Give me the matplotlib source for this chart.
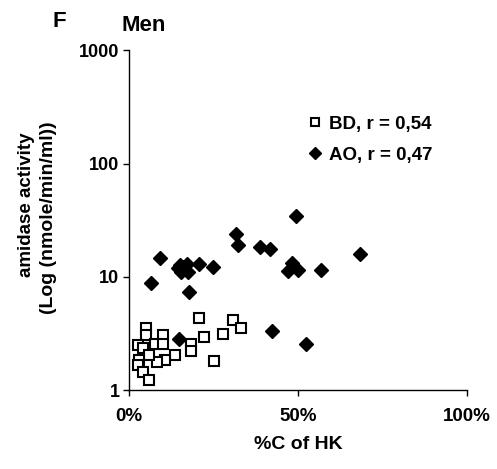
import matplotlib
matplotlib.use("Agg")
from matplotlib import pyplot as plt
from matplotlib.ticker import FixedLocator, NullLocator

# BD group (open squares): %C of HK, amidase activity
bd_x = [20.6, 30.7, 33.1, 22.0, 27.7, 18.3, 18.3, 25.0, 4.9, 4.9, 9.9, 7.7,
        9.9, 2.5, 4.2, 13.4, 10.7, 8.1, 5.9, 3.0, 2.5, 4.2, 5.9]
bd_y = [4.37, 4.19, 3.54, 2.95, 3.16, 2.58, 2.22, 1.81, 3.57, 3.05, 3.05, 2.58,
        2.58, 2.49, 2.38, 2.03, 1.84, 1.78, 2.03, 1.84, 1.66, 1.45, 1.24]

# AO group (filled diamonds)
ao_x = [49.3, 31.7, 32.2, 38.6, 41.8, 68.4, 48.2, 47.0, 50.0, 56.7, 14.6, 42.2,
        52.4, 20.5, 24.7, 9.1, 6.4, 17.6, 15.0, 17.0, 15.4, 17.4, 16.0, 14.5]
ao_y = [34.3, 24.0, 19.0, 18.3, 17.7, 16.0, 13.2, 11.2, 11.4, 11.5, 2.85, 3.31,
        2.58, 12.9, 12.2, 14.7, 8.8, 7.3, 12.6, 13.1, 11.0, 11.0, 12.2, 12.0]

x_ticks = [0, 50, 100]
x_labels = ["0%", "50%", "100%"]
y_ticks = [1, 10, 100, 1000]
y_labels = ["1", "10", "100", "1000"]


def main():
    plt.rcParams['font.family'] = ['Liberation Sans', 'DejaVu Sans']
    fig = plt.figure(figsize=(4.97, 4.69), dpi=100)
    ax = fig.add_axes([0.26, 0.168, 0.68, 0.725])

    ax.plot(bd_x, bd_y, linestyle='none', marker='s', markersize=7,
            markerfacecolor='white', markeredgecolor='black',
            markeredgewidth=1.5, label="BD, r = 0,54")
    ax.plot(ao_x, ao_y, linestyle='none', marker='D', markersize=7.5,
            color='black', label="AO, r = 0,47")

    ax.set_yscale('log')
    ax.set_xlim(0, 100)
    ax.set_ylim(1, 1000)
    ax.xaxis.set_major_locator(FixedLocator(x_ticks))
    ax.set_xticklabels(x_labels, fontsize=13.5, fontweight='bold')
    ax.yaxis.set_major_locator(FixedLocator(y_ticks))
    ax.yaxis.set_minor_locator(NullLocator())
    ax.set_yticklabels(y_labels, fontsize=13, fontweight='bold')
    ax.tick_params(direction='out', length=4, width=1, pad=3)
    ax.tick_params(axis='x', pad=9)

    for side in ['top', 'right']:
        ax.spines[side].set_visible(False)
    for side in ['left', 'bottom']:
        ax.spines[side].set_linewidth(1)

    ax.set_xlabel("%C of HK", fontsize=14, fontweight='bold', labelpad=8)

    # y label: two lines, placed separately as in the original
    fig.text(0.054, 0.563, "amidase activity", rotation=90, fontsize=13.5,
             fontweight='bold', ha='center', va='center')
    fig.text(0.097, 0.535, "(Log (nmole/min/ml))", rotation=90, fontsize=14,
             fontweight='bold', ha='center', va='center')

    ax.legend(loc='upper left', bbox_to_anchor=(0.5, 0.83), frameon=False,
              prop={'weight': 'bold', 'size': 13.5}, markerscale=0.75,
              handletextpad=0.25, labelspacing=0.75, handlelength=1.0,
              borderaxespad=0)

    fig.text(0.105, 0.955, "F", fontsize=16, fontweight='bold', va='center')
    fig.text(0.245, 0.945, "Men", fontsize=16, fontweight='bold', va='center')

    fig.savefig("out.png", dpi=100)


if __name__ == '__main__':
    main()
